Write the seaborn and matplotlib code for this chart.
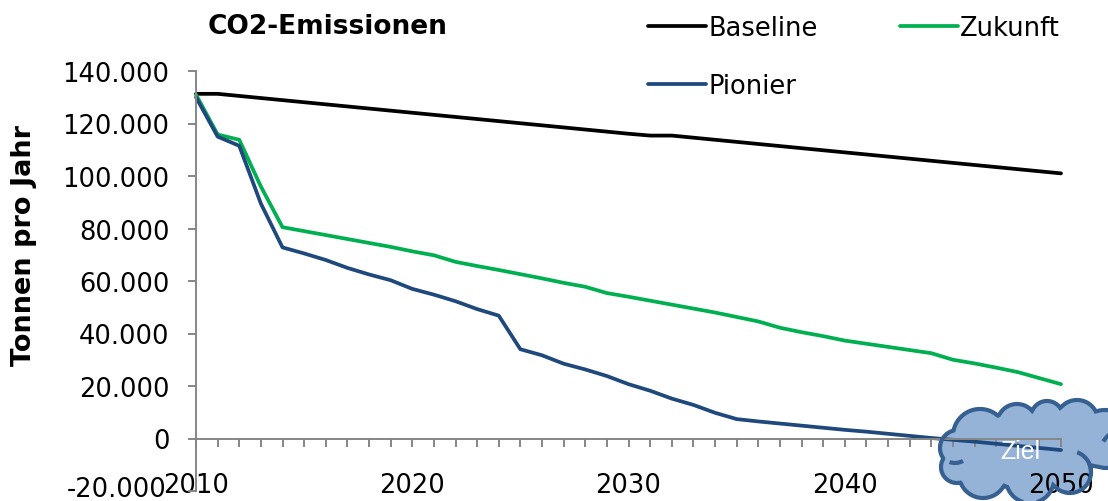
import numpy as np
import pandas as pd
import seaborn as sns
import matplotlib
matplotlib.use('Agg')
import matplotlib.pyplot as plt
from matplotlib.patches import Polygon, Arc
from matplotlib.ticker import FuncFormatter, MultipleLocator
from matplotlib.transforms import Affine2D

years = list(range(2010, 2051))
baseline = [131300, 131300, 130500, 129700, 128900, 128100, 127300, 126500, 125700, 124900,
            124100, 123300, 122500, 121700, 120900, 120100, 119300, 118500, 117700, 116900,
            116100, 115400, 115400, 114600, 113800, 113000, 112200, 111400, 110600, 109800,
            109000, 108200, 107400, 106600, 105800, 105000, 104200, 103400, 102600, 101800, 101000]
zukunft = [131000, 115800, 113800, 96000, 80500, 79000, 77500, 76000, 74500, 73000,
           71300, 69800, 67300, 65700, 64200, 62600, 61000, 59300, 57800, 55400,
           54000, 52500, 51000, 49500, 48000, 46300, 44600, 42200, 40500, 39000,
           37300, 36100, 34900, 33700, 32500, 30000, 28600, 27000, 25300, 23000, 20700]
pionier = [130000, 115000, 111500, 89500, 72800, 70500, 68000, 65000, 62500, 60300,
           57000, 54800, 52300, 49300, 46800, 34000, 31700, 28500, 26300, 23800,
           20700, 18200, 15200, 12800, 9800, 7400, 6500, 5700, 4900, 4100,
           3300, 2600, 1800, 1000, 200, -500, -1200, -2000, -2800, -3600, -4400]
colors = {'Baseline': '#000000', 'Zukunft': '#00B050', 'Pionier': '#1F497D'}

W, H = 1108, 502
AXIS = '#868686'
CLOUD_EDGE = '#376092'

# cloud outline, circles in picture pixels (x, y, r)
bumps = [(980, 437, 27), (1017, 425, 20), (1047, 418, 16), (1077, 422, 21), (1105, 440, 29),
         (1070, 473, 21), (1030, 480, 24), (983, 475, 24), (957, 468, 16), (958, 449, 18),
         (1020, 450, 40)]


def cloud_outline(circles, cx=1025, cy=450):
    pts = []
    for a in np.linspace(0, 2 * np.pi, 720, endpoint=False):
        dx, dy = np.cos(a), np.sin(a)
        best = 0
        for x, y, r in circles:
            fx, fy = x - cx, y - cy
            b = fx * dx + fy * dy
            d = r ** 2 - (fx ** 2 + fy ** 2 - b ** 2)
            if d > 0:
                best = max(best, b + np.sqrt(d))
        pts.append((cx + best * dx, cy + best * dy))
    return np.array(pts)


def y_label(v, p):
    # the lowest label goes in by hand, it has to sit a bit above its tick
    if v < 0:
        return ''
    return f'{int(v):,}'.replace(',', '.')


df = pd.DataFrame({'Jahr': years, 'Baseline': baseline, 'Zukunft': zukunft, 'Pionier': pionier})
df = df.melt('Jahr', var_name='Szenario', value_name='Tonnen')

sns.set_theme(style='white')
plt.rcParams['font.family'] = ['DejaVu Sans']

fig = plt.figure(figsize=(W / 100, H / 100), dpi=100)
ax = fig.add_axes([196 / W, 1 - 492 / H, (1061 - 196) / W, (492 - 72) / H])
ax.patch.set_visible(False)

sns.lineplot(data=df, x='Jahr', y='Tonnen', hue='Szenario', palette=colors,
             hue_order=['Baseline', 'Zukunft', 'Pionier'], linewidth=2.7, ax=ax, errorbar=None)
for line in ax.get_lines():
    line.set_solid_joinstyle('round')
    line.set_clip_on(False)

ax.set_xlim(2010, 2050)
ax.set_ylim(-20000, 140000)
ax.yaxis.set_major_locator(MultipleLocator(20000))
ax.yaxis.set_major_formatter(FuncFormatter(y_label))
ax.xaxis.set_major_locator(MultipleLocator(10))
ax.xaxis.set_minor_locator(MultipleLocator(1))

sns.despine(ax=ax)
ax.spines['bottom'].set_position(('data', 0))
for s in ['left', 'bottom']:
    ax.spines[s].set_color(AXIS)
    ax.spines[s].set_linewidth(1.4)
ax.tick_params(axis='x', which='both', bottom=True, direction='out', length=6, width=1.4,
               color=AXIS, pad=18, labelsize=18.5, labelcolor='black')
ax.tick_params(axis='y', left=True, direction='out', length=6, width=1.4,
               color=AXIS, pad=13, labelsize=18.5, labelcolor='black')
ax.set_xlabel('')
ax.set_ylabel('')
fig.canvas.draw()
ax.get_xticklabels()[-1].set_color('#1F2F4A')

fig.text(167 / W, 1 - 490 / H, '-20.000', fontsize=18.5, ha='right', va='center', color='black')
fig.text(24 / W, 1 - 245 / H, 'Tonnen pro Jahr', rotation=90, fontsize=19.5, fontweight='bold',
         ha='center', va='center', color='black')
fig.text(208 / W, 1 - 27 / H, 'CO2-Emissionen', fontsize=19, fontweight='bold',
         ha='left', va='center', color='black')

handles, labels = ax.get_legend_handles_labels()
order = [labels.index(n) for n in ['Baseline', 'Pionier', 'Zukunft']]
ax.legend([handles[i] for i in order], [labels[i] for i in order], ncol=2, frameon=False,
          loc='upper left', bbox_to_anchor=(648 / W, 1 - 16 / H), bbox_transform=fig.transFigure,
          fontsize=18.5, handlelength=2.26, handletextpad=0.08, columnspacing=3.2,
          labelspacing=1.23, borderpad=0, borderaxespad=0, labelcolor='black')

# cloud: fill behind the axes, outline and text above
px = Affine2D().scale(1, -1).translate(0, H)
outline = cloud_outline(bumps)
fig.add_artist(Polygon(outline, closed=True, transform=px, facecolor='#95B3D7', edgecolor='none', zorder=-1))
fig.add_artist(Polygon(outline, closed=True, transform=px, fill=False, edgecolor=CLOUD_EDGE, linewidth=3, zorder=5))
for (x, y, r, t1, t2) in [(1070, 473, 21, -70, 10), (1125, 455, 25, 210, 230), (955, 448, 16, 60, 110)]:
    fig.add_artist(Arc((x, y), 2 * r, 2 * r, theta1=t1, theta2=t2, transform=px,
                       edgecolor=CLOUD_EDGE, linewidth=3, zorder=5))
fig.text(1020 / W, 1 - 452 / H, 'Ziel', fontsize=18, family='Liberation Sans', color='white',
         ha='center', va='center', zorder=6)

fig.savefig('out.png', dpi=100)
